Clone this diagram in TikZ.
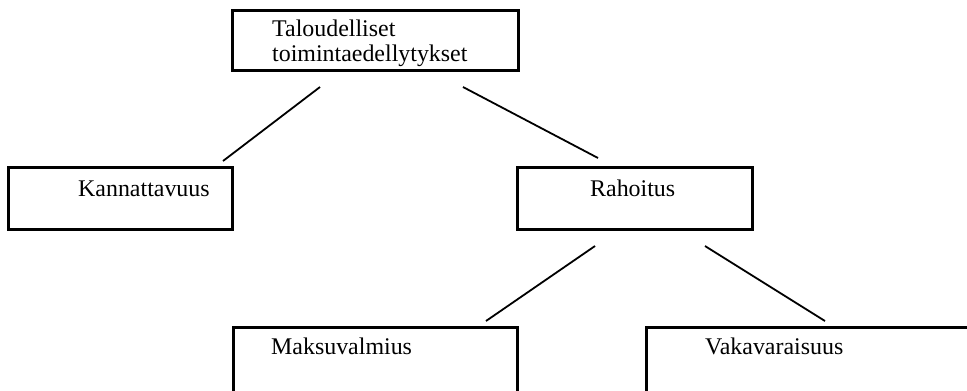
\documentclass[tikz,border=0pt]{standalone}
\usepackage{fontspec}
\setmainfont{Liberation Serif}
\begin{document}
\begin{tikzpicture}[x=1bp,y=-1bp,
  box/.style={draw, line width=3bp, inner sep=0pt, outer sep=0pt, anchor=north west},
  lbl/.style={anchor=base west, inner sep=0pt, font=\fontsize{24}{27}\selectfont},
  conn/.style={line width=1.8bp}]
\useasboundingbox (0,0) rectangle (967,390);
\clip (0,0) rectangle (967,390);
% boxes
\node[box, minimum width=286bp, minimum height=60bp] (top) at (232,10) {};
\node[box, minimum width=224bp, minimum height=62bp] (kann) at (8,167) {};
\node[box, minimum width=235bp, minimum height=62bp] (rah) at (517,167) {};
\node[box, minimum width=284bp, minimum height=90bp] (maks) at (233,327) {};
\node[box, minimum width=340bp, minimum height=90bp] (vaka) at (646,327) {};
% labels
\node[lbl] (t1) at (272,36) {Taloudelliset};
\node[lbl] (t2) at (272,61) {toimintaedellytykset};
\node[lbl] (tk) at (78,196) {Kannattavuus};
\node[lbl] (tr) at (590,196) {Rahoitus};
\node[lbl] (tm) at (271,354) {Maksuvalmius};
\node[lbl] (tv) at (705,354) {Vakavaraisuus};
% connector ends
\coordinate (c1a) at (320,87);
\coordinate (c1b) at (223,161);
\coordinate (c2a) at (463,87);
\coordinate (c2b) at (598,158);
\coordinate (c3a) at (595,246);
\coordinate (c3b) at (486,321);
\coordinate (c4a) at (705,246);
\coordinate (c4b) at (825,321);
\draw[conn] (c1a) -- (c1b);
\draw[conn] (c2a) -- (c2b);
\draw[conn] (c3a) -- (c3b);
\draw[conn] (c4a) -- (c4b);
\end{tikzpicture}
\end{document}
